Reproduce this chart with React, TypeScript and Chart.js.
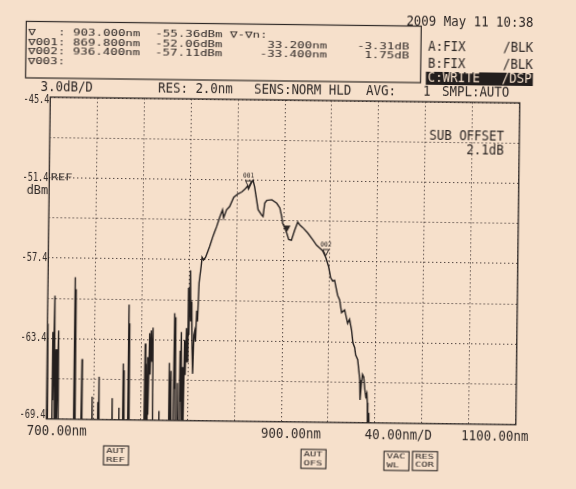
import React, { useEffect, useRef } from "react";
import { Chart, registerables } from "chart.js";
Chart.register(...registerables);

// ---------- data ----------
const wavelengthNm = [
  700.0, 700.4, 701.0,
  704.3, 704.7, 705.2, 706.1, 706.8, 707.6, 708.2, 709.6, 710.1,
  722.8, 723.2, 723.6, 724.1, 724.5,
  729.4, 729.8, 730.2, 738.5, 738.8, 739.1,
  743.4, 743.7, 744.1, 744.5, 744.9,
  755.6, 755.9, 756.2, 761.3, 761.6, 761.9,
  764.6, 765.0, 765.4, 765.8, 766.2,
  768.9, 769.3, 769.7, 770.1, 770.5,
  783.1, 783.5, 784.0, 784.4, 785.0, 785.7, 786.3, 787.2, 787.8, 788.6, 789.3, 790.0, 790.6,
  795.4, 795.7, 796.0,
  803.9, 804.2, 804.9, 805.7, 806.3,
  807.9, 808.3, 808.8, 809.3, 809.8, 811.0, 811.3, 811.8,
  813.0, 813.3, 813.8, 814.2, 814.9, 815.6, 816.3,
  817.0, 817.7, 818.5, 819.1, 819.8, 820.5, 821.3, 822.0, 822.7, 823.4, 824.1,
  824.8, 825.5, 826.2, 827.0, 827.7, 828.7, 830.4, 831.0, 832.3, 834.0,
  835.7, 837.3, 839.8, 841.4, 843.1, 845.6, 847.9, 848.9, 851.3, 853.9,
  857.3, 860.7, 864.1, 866.6, 869.0, 869.8, 872.5, 873.6, 875.0, 876.9,
  878.2, 881.3, 882.5, 883.8, 885.5, 889.8, 894.0, 896.7, 898.4, 899.3,
  901.2, 903.0, 904.6, 906.9, 909.6, 912.1, 913.9, 916.5, 920.8, 925.1,
  928.4, 931.0, 933.6, 936.4, 938.9, 940.7, 942.4, 944.1, 946.8, 948.6,
  950.4, 953.0, 955.7, 957.3, 959.1, 960.4, 961.9, 962.8, 964.6, 965.6,
  966.6, 967.0, 967.9, 968.9, 970.0, 971.0, 971.9, 972.8, 973.3, 973.7,
  974.6, 975.2, 1100.0,
];
const powerDbm = [
  -71, -62.3, -71,
  -71, -62.9, -68.0, -60.2, -71, -64.2, -71, -62.8, -71,
  -71, -58.8, -71, -59.7, -71,
  -71, -64.9, -71, -71, -67.7, -71,
  -71, -68.1, -71, -66.2, -71,
  -71, -67.8, -71, -71, -68.5, -71,
  -71, -65.2, -71, -65.7, -71,
  -71, -60.8, -71, -62.2, -71,
  -71, -63.7, -71, -65.2, -71, -64.7, -69.0, -62.9, -66.0, -62.7, -65.0, -62.5, -71,
  -71, -68.7, -71,
  -71, -65.1, -71, -65.7, -71,
  -71, -61.4, -67.0, -61.7, -71, -71, -66.6, -71,
  -71, -64.2, -68.0, -62.8, -71, -65.4, -71,
  -63.4, -66.0, -62.5, -65.0, -59.5, -63.0, -58.2, -62.0, -60.5, -64.0, -65.9,
  -63.0, -62.7, -63.5, -61.2, -62.0, -59.1, -57.8, -57.2, -57.4, -57.2,
  -56.8, -56.4, -55.7, -55.3, -54.9, -54.2, -53.65, -54.25, -53.65, -53.4,
  -52.7, -52.45, -52.3, -52.1, -51.85, -52.06, -51.55, -51.42, -51.9, -52.9,
  -53.6, -54.0, -54.1, -53.1, -52.9, -52.85, -53.1, -53.45, -54.1, -54.6,
  -54.95, -55.36, -55.8, -55.85, -55.1, -54.5, -54.7, -54.9, -55.3, -55.8,
  -56.2, -56.4, -56.6, -57.11, -57.8, -58.6, -58.85, -58.8, -59.9, -60.25,
  -61.2, -61.0, -62.0, -61.7, -62.5, -63.45, -63.8, -64.35, -64.7, -65.45,
  -66.2, -67.7, -66.6, -65.8, -66.0, -66.9, -67.45, -67.2, -67.9, -71,
  -68.65, -71, -71,
];

const xGridValues = [700, 740, 780, 820, 860, 900, 940, 980, 1020, 1060, 1100];
const yGridValues = [-69.4, -66.4, -63.4, -60.4, -57.4, -54.4, -51.4, -48.4, -45.4];
const yTickValues = [-45.4, -51.4, -57.4, -63.4, -69.4];
const yTickLabels = ["-45.4", "-51.4", "-57.4", "-63.4", "-69.4"];
const xTickValues = [700, 900, 1100];
const xTickLabels = ["700.00nm", "900.00nm", "1100.00nm"];
const xSpanValue = 1000;
const xSpanLabel = "40.00nm/D";

const markerWl = [869.8, 936.4];
const markerPw = [-52.06, -57.11];
const markerNames = ["001", "002"];
const mainMarkerWl = 903.0;
const mainMarkerPw = -55.36;

const infoRows = [
  "\u2207   : 903.000nm  -55.36dBm \u2207-\u2207n:",
  "\u2207001: 869.800nm  -52.06dBm      33.200nm    -3.31dB",
  "\u2207002: 936.400nm  -57.11dBm     -33.400nm     1.75dB",
  "\u2207003:",
];
const dateText = "2009 May 11 10:38";
const headerTexts = ["3.0dB/D", "RES: 2.0nm", "SENS:NORM HLD", "AVG:", "1", "SMPL:AUTO"];
const traceStates = [["A:FIX", "/BLK"], ["B:FIX", "/BLK"], ["C:WRITE", "/DSP"]];
const offsetTexts = ["SUB OFFSET", "2.1dB"];
const softKeys = [["AUT", "REF"], ["AUT", "OFS"], ["VAC", "WL"], ["RES", "COR"]];

// ---------- styles ----------
const PAPER = "#f6e0cb";
const INK = "#2e2826";
const GRID = "rgba(55,45,42,0.85)";
const MONO = "'DejaVu Sans Mono', 'Liberation Mono', monospace";

function drawText(ctx: CanvasRenderingContext2D, s: string, x: number, y: number, size: number, sx: number, align: string = "left", color: string = INK) {
  ctx.save();
  ctx.font = `${size}px ${MONO}`;
  ctx.fillStyle = color;
  ctx.textBaseline = "middle";
  ctx.textAlign = "left";
  const w = ctx.measureText(s).width * sx;
  const x0 = align === "right" ? x - w : align === "center" ? x - w / 2 : x;
  ctx.translate(x0, y);
  ctx.scale(sx, 1);
  ctx.fillText(s, 0, 0);
  ctx.restore();
}

const osaPlugin = {
  id: "osaDecor",
  afterDatasetsDraw(chart: any) {
    const { ctx, scales } = chart;
    const x = scales.x, y = scales.y;
    markerWl.forEach((w, i) => {
      const px = x.getPixelForValue(w);
      const py = y.getPixelForValue(markerPw[i]);
      ctx.save();
      ctx.strokeStyle = INK;
      ctx.lineWidth = 1;
      ctx.beginPath();
      ctx.moveTo(px - 3, py - 8);
      ctx.lineTo(px + 3, py - 8);
      ctx.lineTo(px, py - 2);
      ctx.closePath();
      ctx.stroke();
      ctx.restore();
      drawText(ctx, markerNames[i], px, py - 12.5, 6.5, 0.95, "center");
    });
    const mx = x.getPixelForValue(mainMarkerWl);
    const my = y.getPixelForValue(mainMarkerPw);
    ctx.save();
    ctx.fillStyle = INK;
    ctx.beginPath();
    ctx.moveTo(mx - 3.5, my - 8);
    ctx.lineTo(mx + 3.5, my - 8);
    ctx.lineTo(mx, my - 1.5);
    ctx.closePath();
    ctx.fill();
    ctx.restore();
  },
  afterDraw(chart: any) {
    const { ctx, chartArea: a, scales } = chart;
    const x = scales.x, y = scales.y;
    // frame
    ctx.save();
    ctx.strokeStyle = INK;
    ctx.lineWidth = 1.3;
    ctx.strokeRect(a.left, a.top, a.right - a.left, a.bottom - a.top);
    ctx.restore();

    // y tick labels
    yTickValues.forEach((v, i) => {
      let py = y.getPixelForValue(v);
      py = Math.min(Math.max(py, a.top + 2.5), a.bottom - 3.5);
      drawText(ctx, yTickLabels[i], a.left - 0.8, py, 12, 0.72, "right");
    });
    const refY = y.getPixelForValue(-51.4);
    drawText(ctx, "REF", a.left + 1.5, refY, 8, 1.5, "left");
    drawText(ctx, "dBm", a.left - 1, refY + 13, 12, 1.0, "right");

    // x labels
    const xl = a.bottom + 12.7;
    drawText(ctx, xTickLabels[0], x.getPixelForValue(xTickValues[0]) - 19.5, xl, 13.5, 0.92, "left");
    drawText(ctx, xTickLabels[1], x.getPixelForValue(xTickValues[1]) - 20, xl, 13.5, 0.92, "left");
    drawText(ctx, xSpanLabel, x.getPixelForValue(xSpanValue), xl, 13.5, 0.92, "center");
    drawText(ctx, xTickLabels[2], x.getPixelForValue(xTickValues[2]) + 12.7, xl, 13.5, 0.92, "right");

    // info box
    ctx.save();
    ctx.strokeStyle = INK;
    ctx.lineWidth = 1.2;
    ctx.strokeRect(23.4, 24.5, 395, 56.5);
    ctx.restore();
    const rowY = [36, 45.5, 55, 64.5];
    infoRows.forEach((r, i) => drawText(ctx, r, 25.4, rowY[i], 9, 1.38, "left"));

    // date & trace states
    drawText(ctx, dateText, 530.5, 20.5, 13.5, 0.92, "right");
    drawText(ctx, traceStates[0][0], 425.5, 45, 13.5, 0.92, "left");
    drawText(ctx, traceStates[0][1], 530.5, 45, 13.5, 0.92, "right");
    drawText(ctx, traceStates[1][0], 425.5, 62.5, 13.5, 0.92, "left");
    drawText(ctx, traceStates[1][1], 530.5, 62.5, 13.5, 0.92, "right");
    ctx.save();
    ctx.fillStyle = "#231e1d";
    ctx.fillRect(423.6, 70, 107, 13);
    ctx.restore();
    drawText(ctx, traceStates[2][0], 425.5, 76.6, 13.5, 0.92, "left", PAPER);
    drawText(ctx, traceStates[2][1], 529.5, 76.6, 13.5, 0.92, "right", PAPER);

    // header line
    const hy = 90.5;
    const hx = [38.5, 156, 252, 364, 421, 440];
    headerTexts.forEach((t, i) => drawText(ctx, t, hx[i], hy, 13.5, 0.92, "left"));

    // offset note
    drawText(ctx, offsetTexts[0], 502.5, 134.8, 13.5, 0.92, "right");
    drawText(ctx, offsetTexts[1], 502.5, 148.8, 13.5, 0.92, "right");

    // soft keys
    const keyPos = [[118.4, 457.5], [315.9, 458.6], [398.9, 459.6], [427.4, 459.3]];
    softKeys.forEach((k, i) => {
      const [cx, cy] = keyPos[i];
      ctx.save();
      ctx.strokeStyle = INK;
      ctx.lineWidth = 1.1;
      ctx.strokeRect(cx - 12.5, cy - 9.5, 25, 19);
      ctx.restore();
      drawText(ctx, k[0], cx - 10, cy - 4, 7, 1.5, "left");
      drawText(ctx, k[1], cx - 10, cy + 4.2, 7, 1.5, "left");
    });
  },
};

export default function App() {
  const ref = useRef<HTMLCanvasElement>(null);
  useEffect(() => {
    const canvas = ref.current as HTMLCanvasElement;
    const points = wavelengthNm.map((w, i) => ({ x: w, y: powerDbm[i] }));
    const chart = new Chart(canvas, {
      type: "line",
      data: {
        datasets: [
          {
            data: points,
            borderColor: "#241f1e",
            borderWidth: 1.4,
            pointRadius: 0,
            tension: 0,
            fill: false,
          },
        ],
      },
      options: {
        responsive: false,
        devicePixelRatio: 1,
        animation: false,
        events: [],
        layout: { padding: { left: 48.3, right: 58.2, top: 100, bottom: 67.2 } },
        plugins: { legend: { display: false }, tooltip: { enabled: false } },
        scales: {
          x: {
            type: "linear",
            min: 700,
            max: 1100,
            afterBuildTicks: (s: any) => {
              s.ticks = xGridValues.map((v) => ({ value: v }));
            },
            afterFit: (s: any) => {
              s.height = 0;
            },
            ticks: { display: false },
            grid: { color: GRID, lineWidth: 1, drawTicks: false },
            border: { display: false, dash: [1.4, 2.6] },
          },
          y: {
            type: "linear",
            min: -69.4,
            max: -45.4,
            afterBuildTicks: (s: any) => {
              s.ticks = yGridValues.map((v) => ({ value: v }));
            },
            afterFit: (s: any) => {
              s.width = 0;
            },
            ticks: { display: false },
            grid: { color: GRID, lineWidth: 1, drawTicks: false },
            border: { display: false, dash: [1.4, 2.6] },
          },
        },
      },
      plugins: [osaPlugin],
    } as any);
    return () => chart.destroy();
  }, []);

  return (
    <div style={{ position: "fixed", left: 0, top: 0, width: 576, height: 489, background: PAPER, overflow: "hidden" }}>
      <div
        style={{
          position: "absolute",
          left: 0,
          top: 0,
          width: 576,
          height: 489,
          transform: "rotate(0.7deg)",
          transformOrigin: "283px 261px",
        }}
      >
        <canvas ref={ref} width={576} height={489} style={{ display: "block", width: 576, height: 489 }} />
      </div>
    </div>
  );
}
